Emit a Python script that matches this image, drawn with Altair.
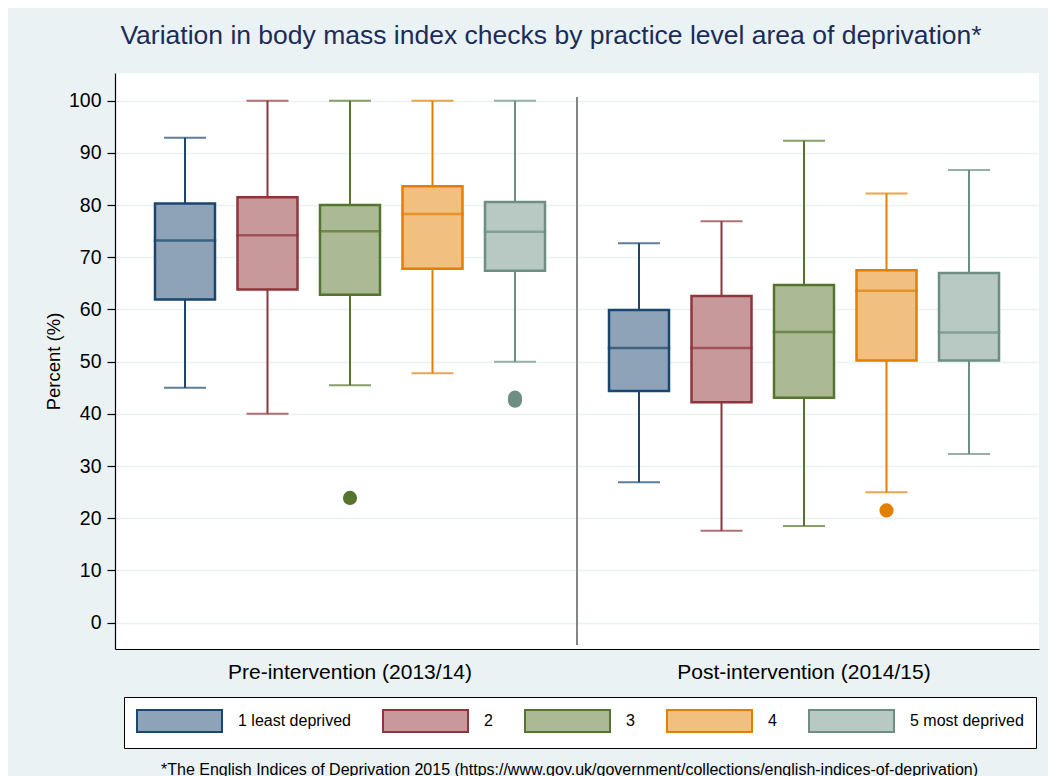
import altair as alt
import pandas as pd

groups = ["Pre-intervention (2013/14)", "Post-intervention (2014/15)"]
cats = ["1 least deprived", "2", "3", "4", "5 most deprived"]

pre_low = [45.0, 40.0, 45.5, 47.8, 50.0]
pre_q1 = [61.9, 63.8, 62.8, 67.8, 67.4]
pre_med = [73.2, 74.2, 75.0, 78.3, 74.9]
pre_q3 = [80.3, 81.5, 80.0, 83.6, 80.6]
pre_high = [92.9, 100.0, 100.0, 100.0, 100.0]

post_low = [26.9, 17.6, 18.5, 25.0, 32.3]
post_q1 = [44.4, 42.2, 43.1, 50.2, 50.2]
post_med = [52.6, 52.6, 55.7, 63.6, 55.6]
post_q3 = [59.9, 62.6, 64.7, 67.5, 67.0]
post_high = [72.7, 76.9, 92.3, 82.2, 86.7]

out_group = [groups[0], groups[0], groups[0], groups[1]]
out_cat = ["3", "5 most deprived", "5 most deprived", "4"]
out_value = [23.9, 42.5, 43.1, 21.5]

fills = ["#8ea3b8", "#c8999b", "#abb994", "#f1bf80", "#b8c8c2"]
lines = ["#1a476f", "#90353b", "#55752f", "#e37e00", "#6e8e84"]

title_text = "Variation in body mass index checks by practice level area of deprivation*"
footnote = "*The English Indices of Deprivation 2015 (https://www.gov.uk/government/collections/english-indices-of-deprivation)"

rows = []
for g, lows, q1s, meds, q3s, highs in [
    (groups[0], pre_low, pre_q1, pre_med, pre_q3, pre_high),
    (groups[1], post_low, post_q1, post_med, post_q3, post_high),
]:
    for c, lo, a, m, b, hi in zip(cats, lows, q1s, meds, q3s, highs):
        rows.append(dict(group=g, cat=c, low=lo, q1=a, med=m, q3=b, high=hi))
df = pd.DataFrame(rows)
out = pd.DataFrame({"group": out_group, "cat": out_cat, "catd": out_cat, "value": out_value})

FONT = "Liberation Sans"
W, H = 924, 576

x = alt.X(
    "group:N",
    scale=alt.Scale(domain=groups, paddingInner=0.0914, paddingOuter=0.0633),
    axis=alt.Axis(
        title=footnote, labelAngle=0, ticks=False, labelFontSize=21, labelColor="black",
        labelFont=FONT, labelPadding=12, labelLimit=0, domainColor="black", domainWidth=1.2,
        grid=False, titleFontSize=16, titleFont=FONT, titleFontWeight="normal",
        titleColor="black", titleY=125, titleX=454, titleBaseline="alphabetic",
    ),
)
xo = alt.XOffset("cat:N", scale=alt.Scale(domain=cats, paddingInner=0.2727, paddingOuter=0.13635))
yscale = alt.Scale(domain=[-5.05, 105.3], nice=False, zero=False)
yaxis = alt.Axis(
    values=list(range(0, 101, 10)), title="Percent (%)", grid=True, gridColor="#eaf2f3",
    gridWidth=1.5, tickColor="black", tickSize=8, tickWidth=1.2, domainColor="black",
    domainWidth=1.2, labelFontSize=19.5, labelFont=FONT, labelColor="black", labelPadding=6,
    titleFontSize=18.5, titleFont=FONT, titleFontWeight="normal", titleColor="black",
    titlePadding=5,
)

legend = alt.Legend(
    title=None, orient="none", legendX=9, legendY=624, direction="horizontal", columns=5,
    symbolType="M-1,-1H6.727V1H-1Z", symbolSize=484, symbolStrokeWidth=2, symbolOpacity=1,
    labelFontSize=16, labelFont=FONT, labelColor="black", labelOffset=78, columnPadding=28,
    padding=12, strokeColor="black", fillColor="white",
)
fill = alt.Fill("cat:N", scale=alt.Scale(domain=cats, range=fills), legend=legend)
stroke = alt.Stroke("cat:N", scale=alt.Scale(domain=cats, range=lines), legend=legend)
dark = alt.Color("catd:N", scale=alt.Scale(domain=cats, range=lines), legend=None)

base = alt.Chart(df)

divider = alt.Chart(pd.DataFrame({"a": [0]})).mark_rule(color="#858585", strokeWidth=2).encode(
    x=alt.value(W / 2), y=alt.value(24), y2=alt.value(572)
)
whisk = base.mark_rule(strokeWidth=2).encode(
    x=x, xOffset=xo, y=alt.Y("low:Q", scale=yscale, axis=yaxis), y2="high:Q", stroke=stroke
)
cap_lo = base.mark_tick(size=40, thickness=0.01, filled=False, strokeWidth=2).encode(
    x=x, xOffset=xo, y=alt.Y("low:Q", scale=yscale, axis=yaxis), stroke=stroke
)
cap_hi = base.mark_tick(size=40, thickness=0.01, filled=False, strokeWidth=2).encode(
    x=x, xOffset=xo, y=alt.Y("high:Q", scale=yscale, axis=yaxis), stroke=stroke
)
box = base.mark_bar(strokeWidth=2.5).encode(
    x=x, xOffset=xo, y=alt.Y("q1:Q", scale=yscale, axis=yaxis), y2="q3:Q", fill=fill, stroke=stroke
)
median = base.mark_tick(size=60, thickness=0.01, filled=False, strokeWidth=2.5).encode(
    x=x, xOffset=xo, y=alt.Y("med:Q", scale=yscale, axis=yaxis), stroke=stroke
)
outl = alt.Chart(out).mark_circle(size=200, opacity=1).encode(
    x=x, xOffset=xo, y=alt.Y("value:Q", scale=yscale, axis=yaxis), color=dark
)

chart = alt.layer(divider, whisk, cap_lo, cap_hi, box, median, outl).properties(
    width=W, height=H,
    title=alt.Title(title_text, fontSize=26.5, font=FONT, color="#1c2c5a", fontWeight="normal",
                    anchor="middle", frame="group", dx=-26, offset=3, baseline="alphabetic"),
    autosize=alt.AutoSizeParams(type="none"),
    padding={"left": 107, "top": 65, "right": 9, "bottom": 127},
).configure(background="#eaf2f3", font=FONT).configure_view(fill="white", strokeWidth=0)

chart.save("out.html", embed_options={"renderer": "svg", "actions": False})
